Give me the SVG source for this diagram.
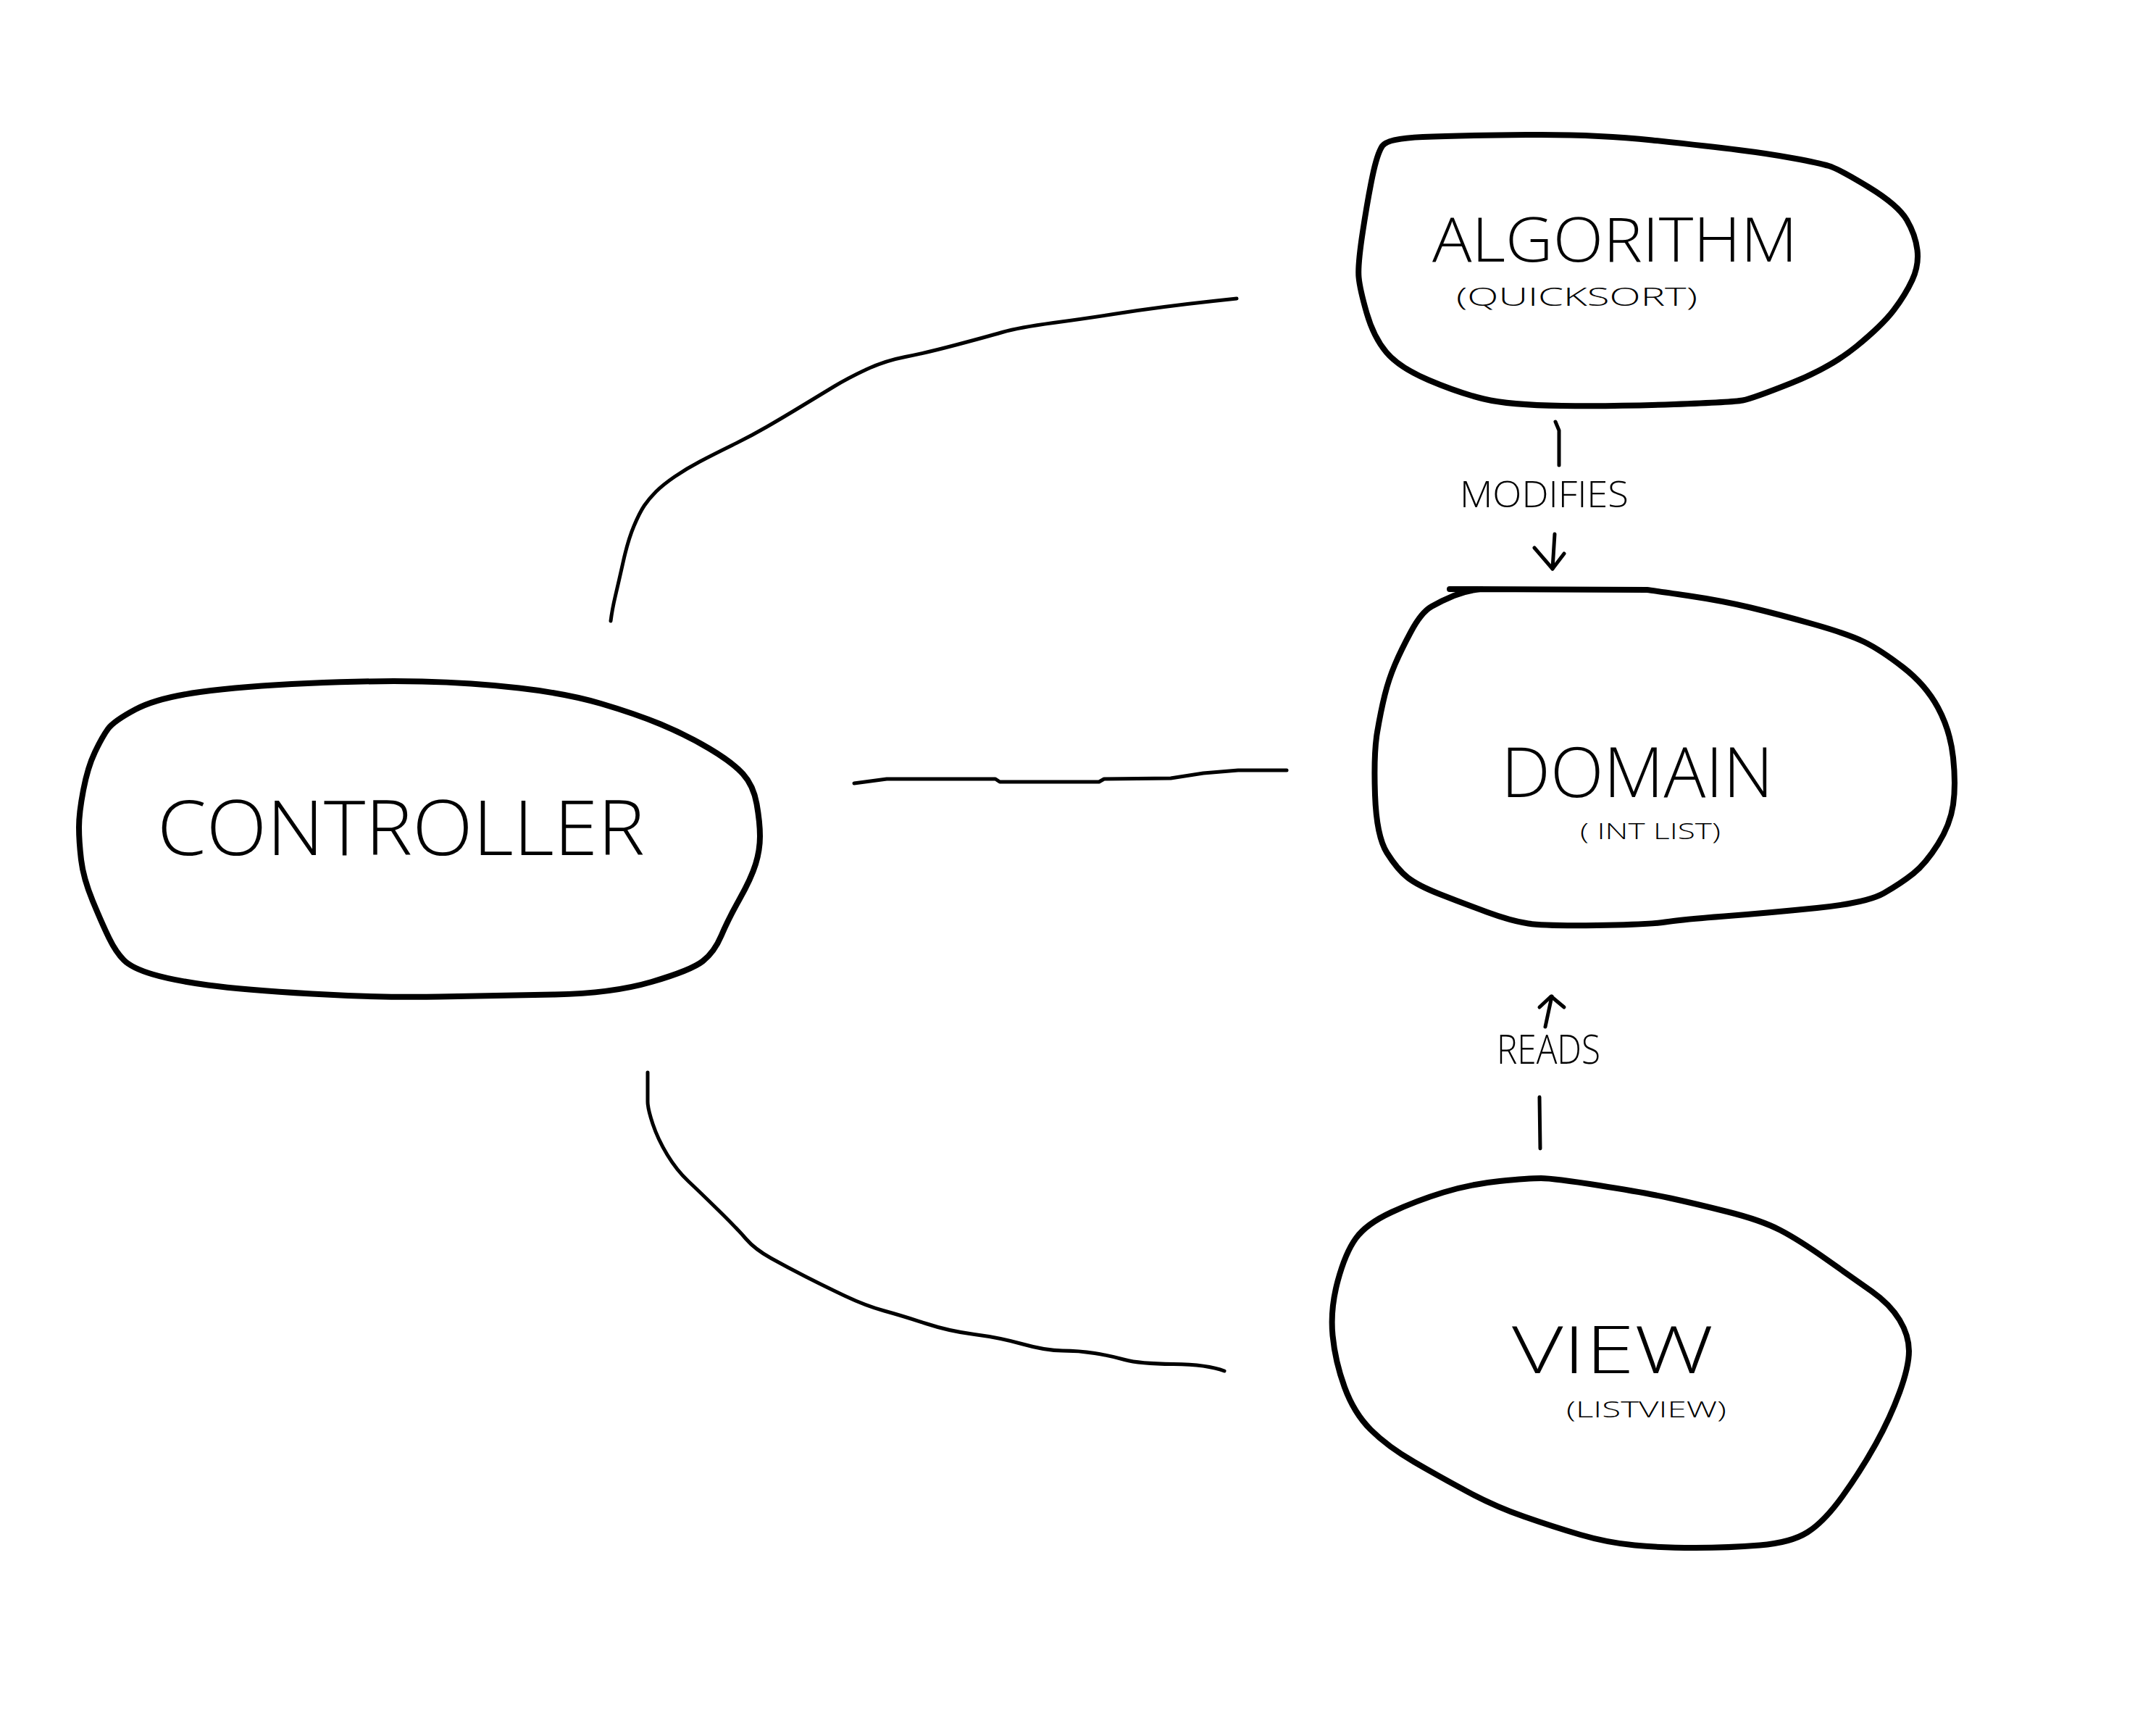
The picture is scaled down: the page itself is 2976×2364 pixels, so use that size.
<svg xmlns="http://www.w3.org/2000/svg" width="2976" height="2364" viewBox="0 0 2976 2364">
<style>
.shape{fill:none;stroke:#000;stroke-width:8;stroke-linejoin:round;stroke-linecap:round}
.conn{fill:none;stroke:#000;stroke-width:5;stroke-linejoin:round;stroke-linecap:round}
.t{font-family:"Open Sans","Liberation Sans",sans-serif;font-weight:300;fill:#000}
</style>
<rect width="2976" height="2364" fill="#fff"/>
<g id="connectors">
<path class="conn" d="M843,857 Q845,841 849.5,822 Q854,803 860.5,774 Q867,745 875,726 Q883,707 889.5,697.5 Q896,688 905.5,678.5 Q915,669 931,658 Q947,647 966,637 Q985,627 1010.5,614.5 Q1036,602 1058.5,589 Q1081,576 1106.5,560.5 Q1132,545 1151,533.5 Q1170,522 1195.5,510 Q1221,498 1249.5,492.5 Q1278,487 1319.5,476 Q1361,465 1383.5,458.5 Q1406,452 1454,445.5 Q1502,439 1537,433.5 Q1572,428 1607,423.5 Q1642,419 1674.5,415.5 L1707,412"/>
<polyline class="conn" points="1179,1081 1224,1075 1374,1075 1380,1079 1517,1079 1524,1075 1616,1074 1661,1067 1709,1063 1776,1063"/>
<path class="conn" d="M894,1480 L894,1520 Q894,1530 901,1551 Q908,1572 921,1593.5 Q934,1615 950,1630 Q966,1645 991.5,1670 Q1017,1695 1029.5,1709.5 Q1042,1724 1064.5,1736.5 Q1087,1749 1112.5,1762 Q1138,1775 1166.5,1788.5 Q1195,1802 1220.5,1809 Q1246,1816 1278,1826.5 Q1310,1837 1345,1841.5 Q1380,1846 1412,1855 Q1444,1864 1466.5,1864 Q1489,1864 1511,1867.5 Q1533,1871 1552.5,1876.5 Q1572,1882 1619.5,1882.5 Q1667,1883 1690,1892"/>
<g id="modifies">
<polyline class="conn" points="2147,582 2152,594 2152,642"/>
<text class="t" x="2015" y="700" font-size="50" textLength="233" lengthAdjust="spacingAndGlyphs">MODIFIES</text>
<polyline class="conn" points="2146,737 2143,785"/>
<polyline class="conn" points="2118,756 2143,785 2159,764"/>
</g>
<g id="reads">
<polyline class="conn" points="2133,1417 2142,1375"/>
<polyline class="conn" points="2125,1390 2141,1375 2159,1390"/>
<text class="t" x="2066" y="1468" font-size="56" textLength="143" lengthAdjust="spacingAndGlyphs">READS</text>
<polyline class="conn" points="2125,1514 2126,1585"/>
</g>
</g>
<g id="controller">
<path class="shape" d="M149,1006 Q157,995 187,979 Q217,963 276,955 Q335,947 424.5,943 Q514,939 582.5,940.5 Q651,942 716.5,949.5 Q782,957 829.5,971 Q877,985 912,999.5 Q947,1014 979,1033 Q1011,1052 1025.5,1068 Q1040,1084 1044.5,1109.5 Q1049,1135 1049,1154 Q1049,1173 1043,1192.5 Q1037,1212 1021,1240.5 Q1005,1269 995.5,1291.5 Q986,1314 970,1326.5 Q954,1339 899.5,1355 Q845,1371 765.5,1372.5 Q686,1374 606,1375.5 Q526,1377 430.5,1371.5 Q335,1366 287,1359.5 Q239,1353 210.5,1344.5 Q182,1336 171,1325 Q160,1314 150.5,1294.5 Q141,1275 128,1243.5 Q115,1212 112,1186.5 Q109,1161 109,1141.5 Q109,1122 115,1090.5 Q121,1059 131,1038 Q141,1017 149,1006 Z"/>
<text class="t" x="217" y="1180" font-size="105" textLength="673" lengthAdjust="spacingAndGlyphs">CONTROLLER</text>
</g>
<g id="algorithm">
<path class="shape" d="M1908,201.5 Q1915,191 1964,189 Q2013,187 2107.5,186 Q2202,185 2280.5,193.5 Q2359,202 2400,207 Q2441,212 2476,218.5 Q2511,225 2524.5,229 Q2538,233 2579,258 Q2620,283 2632,303.5 Q2644,324 2646.5,345 Q2649,366 2639.5,386.5 Q2630,407 2614,428 Q2598,449 2562.5,478 Q2527,507 2473,528.5 Q2419,550 2405.5,552.5 Q2392,555 2310.5,558 Q2229,561 2156,560 Q2083,559 2048,550.5 Q2013,542 1972,524.5 Q1931,507 1913.5,486 Q1896,465 1886.5,432 Q1877,399 1875.5,382.5 Q1874,366 1881,320 Q1888,274 1894.5,243 Q1901,212 1908,201.5 Z"/>
<text class="t" x="1977" y="361" font-size="84" textLength="504" lengthAdjust="spacingAndGlyphs">ALGORITHM</text>
<text class="t" x="2010" y="422" font-size="35" textLength="333" lengthAdjust="spacingAndGlyphs">(QUICKSORT)</text>
</g>
<g id="domain">
<path class="shape" d="M2001,813 L2273.5,814 Q2282,815 2329.5,822 Q2377,829 2416.5,838.5 Q2456,848 2503.5,861.5 Q2551,875 2573.5,886 Q2596,897 2627,921 Q2658,945 2675,976.5 Q2692,1008 2696,1045.5 Q2700,1083 2696,1110.5 Q2692,1138 2675,1165 Q2658,1192 2641,1205.5 Q2624,1219 2600.5,1232.5 Q2577,1246 2508,1253 Q2439,1260 2380,1264.5 Q2321,1269 2298.5,1272.5 Q2276,1276 2204.5,1277 Q2133,1278 2109.5,1274.5 Q2086,1271 2052,1258.5 Q2018,1246 1987.5,1234 Q1957,1222 1943,1211 Q1929,1200 1914.5,1177 Q1900,1154 1898,1097 Q1896,1040 1901,1010.5 Q1906,981 1911.5,959 Q1917,937 1925.5,917 Q1934,897 1948,871 Q1962,845 1976,837 Q1990,829 2007,822 Q2024,815 2045,813"/>
<text class="t" x="2072" y="1100" font-size="95" textLength="376" lengthAdjust="spacingAndGlyphs">DOMAIN</text>
<text class="t" x="2181" y="1158" font-size="31" textLength="194" lengthAdjust="spacingAndGlyphs">( INT LIST)</text>
</g>
<g id="view">
<path class="shape" d="M1871.5,1709 Q1886,1689 1920.5,1673 Q1955,1657 1992.5,1645.5 Q2030,1634 2070,1630 Q2110,1626 2127,1626 Q2144,1626 2207.5,1636 Q2271,1646 2305.5,1653.5 Q2340,1661 2385.5,1672.5 Q2431,1684 2457,1697.5 Q2483,1711 2520.5,1737.5 Q2558,1764 2583.5,1782 Q2609,1800 2622,1821.5 Q2635,1843 2635,1864.5 Q2635,1886 2622,1921.5 Q2609,1957 2589,1993 Q2569,2029 2543.5,2064.5 Q2518,2100 2495,2114.5 Q2472,2129 2429,2132.5 Q2386,2136 2340,2136 Q2294,2136 2256.5,2132.5 Q2219,2129 2181.5,2118 Q2144,2107 2104,2093 Q2064,2079 2026.5,2059 Q1989,2039 1952,2017.5 Q1915,1996 1892,1973 Q1869,1950 1856,1914.5 Q1843,1879 1839.5,1843 Q1836,1807 1846.5,1768 Q1857,1729 1871.5,1709 Z"/>
<text class="t" x="2087" y="1895" font-size="91" textLength="278" lengthAdjust="spacingAndGlyphs">VIEW</text>
<text class="t" x="2162" y="1956" font-size="31" textLength="221" lengthAdjust="spacingAndGlyphs">(LISTVIEW)</text>
</g>
</svg>
